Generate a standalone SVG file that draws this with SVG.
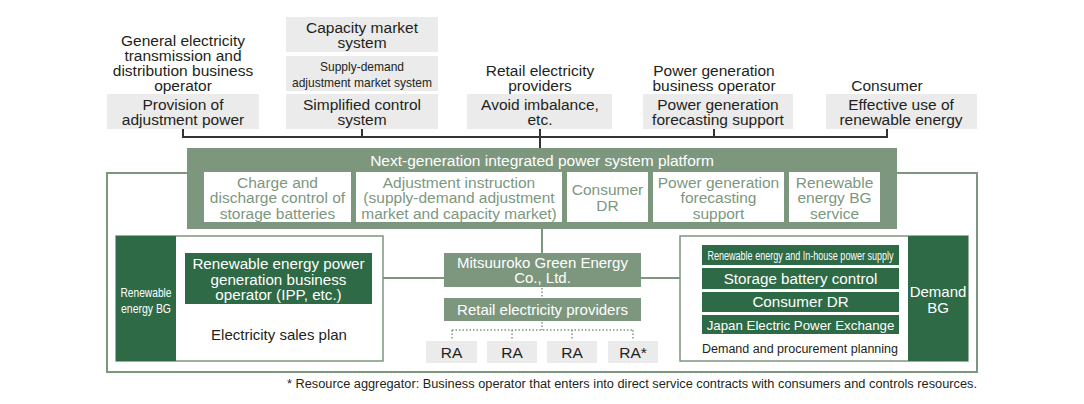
<svg xmlns="http://www.w3.org/2000/svg" width="1084" height="404" viewBox="0 0 1084 404">
<style>
text{font-family:"Liberation Sans",Arial,sans-serif;}
.t{font-size:15.5px;fill:#231f20;text-anchor:middle;}
.gbox{fill:#ebebeb;}
.w{fill:#ffffff;text-anchor:middle;font-size:15.5px;}
.gt{fill:#7d977f;text-anchor:middle;font-size:15.5px;}
.plat{fill:#7d977f;}
.dk{fill:#2e6a45;}
.frame{fill:#ffffff;stroke:#7d977f;stroke-width:2;}
.conn{fill:none;stroke:#333333;stroke-width:2;}
.gl{fill:none;stroke:#7d977f;stroke-width:2;}
.dot{fill:none;stroke:#7d977f;stroke-width:1.5;stroke-dasharray:1.5 2;}
</style>
<rect width="1084" height="404" fill="#ffffff"/>

<!-- outer frame -->
<rect class="frame" x="107" y="173" width="870" height="199"/>

<g id="connectors">
<path class="conn" d="M183 129 V137 H887 V129 M362 129 V137 M540 129 V148 M714 129 V137"/>
<path class="gl" d="M542 229 V253"/>
<path class="gl" d="M372 278 H444"/>
<path class="gl" d="M641 278 H692 M692 255 V324 M692 255 H702 M692 278 H702 M692 302 H702 M692 324 H702"/>
<path class="dot" d="M542 288 V298 M542 322 V330 M452 330 H633 M452 330 V340 M512 330 V340 M572 330 V340 M633 330 V340"/>
</g>

<g id="n_general">
<text class="t" x="183" y="45.5">General electricity</text>
<text class="t" x="183" y="60.5">transmission and</text>
<text class="t" x="183" y="75.5">distribution business</text>
<text class="t" x="183" y="90.5">operator</text>
<rect class="gbox" x="107" y="94" width="152" height="35"/>
<text class="t" x="183" y="109.5">Provision of</text>
<text class="t" x="183" y="124.5">adjustment power</text>
</g>

<g id="n_capacity">
<rect class="gbox" x="286" y="17" width="152" height="35"/>
<text class="t" x="362" y="33">Capacity market</text>
<text class="t" x="362" y="48">system</text>
</g>
<g id="n_supply">
<rect class="gbox" x="286" y="56" width="152" height="35"/>
<text class="t" x="362" y="71" style="font-size:13.5px" textLength="84" lengthAdjust="spacingAndGlyphs">Supply-demand</text>
<text class="t" x="362" y="86.5" style="font-size:13.5px" textLength="140" lengthAdjust="spacingAndGlyphs">adjustment market system</text>
</g>
<g id="n_simplified">
<rect class="gbox" x="286" y="94" width="152" height="35"/>
<text class="t" x="362" y="109.5">Simplified control</text>
<text class="t" x="362" y="124.5">system</text>
</g>

<g id="n_retail_top">
<text class="t" x="540" y="75.5">Retail electricity</text>
<text class="t" x="540" y="90.5">providers</text>
<rect class="gbox" x="467" y="94" width="145" height="35"/>
<text class="t" x="540" y="109.5">Avoid imbalance,</text>
<text class="t" x="540" y="124.5">etc.</text>
</g>

<g id="n_powergen">
<text class="t" x="714" y="75.5">Power generation</text>
<text class="t" x="714" y="90.5">business operator</text>
<rect class="gbox" x="643" y="94" width="150" height="35"/>
<text class="t" x="718" y="109.5">Power generation</text>
<text class="t" x="718" y="124.5">forecasting support</text>
</g>

<g id="n_consumer">
<text class="t" x="887" y="90.5">Consumer</text>
<rect class="gbox" x="826" y="94" width="151" height="35"/>
<text class="t" x="901" y="109.5">Effective use of</text>
<text class="t" x="901" y="124.5">renewable energy</text>
</g>

<g id="n_platform">
<rect class="plat" x="187" y="148" width="710" height="81"/>
<text class="w" x="542" y="165.5">Next-generation integrated power system platform</text>
<rect fill="#ffffff" x="204" y="172" width="147" height="50"/>
<text class="gt" x="277.5" y="187.5">Charge and</text>
<text class="gt" x="277.5" y="203">discharge control of</text>
<text class="gt" x="277.5" y="218.5">storage batteries</text>
<rect fill="#ffffff" x="356" y="172" width="206" height="50"/>
<text class="gt" x="459" y="187.5">Adjustment instruction</text>
<text class="gt" x="459" y="203">(supply-demand adjustment</text>
<text class="gt" x="459" y="218.5">market and capacity market)</text>
<rect fill="#ffffff" x="567" y="172" width="81" height="50"/>
<text class="gt" x="607.5" y="195">Consumer</text>
<text class="gt" x="607.5" y="210.5">DR</text>
<rect fill="#ffffff" x="653" y="172" width="131" height="50"/>
<text class="gt" x="718.5" y="187.5">Power generation</text>
<text class="gt" x="718.5" y="203">forecasting</text>
<text class="gt" x="718.5" y="218.5">support</text>
<rect fill="#ffffff" x="789" y="172" width="91" height="50"/>
<text class="gt" x="834.5" y="187.5">Renewable</text>
<text class="gt" x="834.5" y="203">energy BG</text>
<text class="gt" x="834.5" y="218.5">service</text>
</g>

<g id="n_renewable_bg">
<rect class="frame" x="116" y="236" width="267" height="125" style="stroke-width:1.5"/>
<rect class="dk" x="116" y="236" width="60" height="125"/>
<text class="w" x="146" y="297" style="font-size:13.5px" textLength="51" lengthAdjust="spacingAndGlyphs">Renewable</text>
<text class="w" x="146" y="313" style="font-size:13.5px" textLength="50" lengthAdjust="spacingAndGlyphs">energy BG</text>
<text class="t" x="279" y="340" style="font-size:15px">Electricity sales plan</text>
</g>
<g id="n_ipp">
<rect class="dk" x="185" y="253" width="187" height="51"/>
<text class="w" x="278.5" y="269" style="font-size:15.2px">Renewable energy power</text>
<text class="w" x="278.5" y="284.5" style="font-size:15.2px">generation business</text>
<text class="w" x="278.5" y="300" style="font-size:15.2px">operator (IPP, etc.)</text>
</g>

<g id="n_mitsuuroko">
<rect class="plat" x="444" y="253" width="197" height="34"/>
<text class="w" x="542.5" y="268" style="font-size:15px">Mitsuuroko Green Energy</text>
<text class="w" x="542.5" y="283" style="font-size:15px">Co., Ltd.</text>
</g>
<g id="n_retail">
<rect class="plat" x="444" y="298" width="197" height="23"/>
<text class="w" x="542.5" y="315" style="font-size:15px">Retail electricity providers</text>
</g>
<g id="n_ra1"><rect class="gbox" x="426" y="341" width="51" height="22"/><text class="t" x="451.5" y="357.5">RA</text></g>
<g id="n_ra2"><rect class="gbox" x="487" y="341" width="50" height="22"/><text class="t" x="512" y="357.5">RA</text></g>
<g id="n_ra3"><rect class="gbox" x="547" y="341" width="50" height="22"/><text class="t" x="572" y="357.5">RA</text></g>
<g id="n_ra4"><rect class="gbox" x="608" y="341" width="50" height="22"/><text class="t" x="633" y="357.5">RA*</text></g>

<g id="n_demand_bg">
<rect class="frame" x="680" y="236" width="288" height="125" style="stroke-width:1.5"/>
<rect class="dk" x="908" y="236" width="60" height="125"/>
<text class="w" x="938" y="297" style="font-size:15px">Demand</text>
<text class="w" x="938" y="313" style="font-size:15px">BG</text>
<text class="t" x="800" y="353" style="font-size:12.5px">Demand and procurement planning</text>
</g>
<g id="n_d1"><rect class="dk" x="702" y="245" width="197" height="20"/><text class="w" x="800.5" y="259.5" style="font-size:12.5px" textLength="186" lengthAdjust="spacingAndGlyphs">Renewable energy and In-house power supply</text></g>
<g id="n_d2"><rect class="dk" x="702" y="268" width="197" height="21"/><text class="w" x="800.5" y="283.5" style="font-size:15.2px">Storage battery control</text></g>
<g id="n_d3"><rect class="dk" x="702" y="292" width="197" height="20"/><text class="w" x="800.5" y="307" style="font-size:15.2px">Consumer DR</text></g>
<g id="n_d4"><rect class="dk" x="702" y="315" width="197" height="19"/><text class="w" x="800.5" y="329.5" style="font-size:13.3px">Japan Electric Power Exchange</text></g>

<text x="977" y="388" style="font-size:12.5px;fill:#231f20;text-anchor:end" textLength="690" lengthAdjust="spacingAndGlyphs">* Resource aggregator: Business operator that enters into direct service contracts with consumers and controls resources.</text>
</svg>
